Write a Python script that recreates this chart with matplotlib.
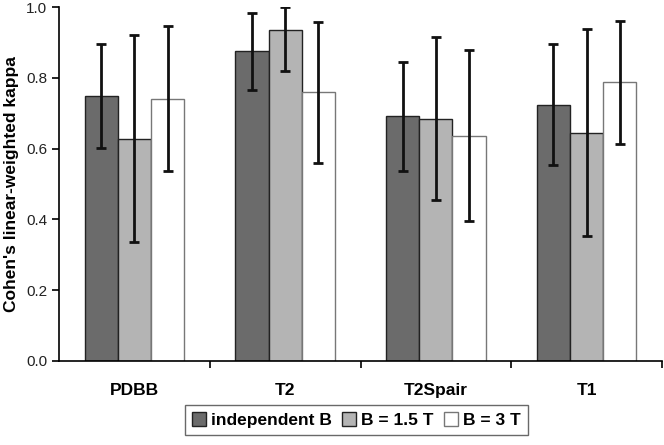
import numpy as np
import matplotlib.pyplot as plt

plt.rcParams['font.family'] = ['Liberation Sans', 'DejaVu Sans']

categories = ['PDBB', 'T2', 'T2Spair', 'T1']
series = ['independent B', 'B = 1.5 T', 'B = 3 T']

# kappa values and confidence bounds per series
vals = [[0.749, 0.875, 0.691, 0.724],
        [0.628, 0.935, 0.684, 0.645],
        [0.740, 0.759, 0.636, 0.788]]
upper = [[0.896, 0.983, 0.845, 0.896],
         [0.921, 1.000, 0.915, 0.938],
         [0.946, 0.957, 0.879, 0.962]]
lower = [[0.602, 0.766, 0.537, 0.555],
         [0.335, 0.819, 0.454, 0.353],
         [0.537, 0.560, 0.395, 0.613]]

colors = ['#6b6b6b', '#b4b4b4', '#ffffff']
edges = ['#222222', '#222222', '#777777']

fig = plt.figure(figsize=(6.64, 4.45), dpi=100)
ax = fig.add_axes([0.089, 0.189, 0.908, 0.795])

x = np.arange(len(categories))
w = 0.22
for i in range(3):
    v = np.array(vals[i])
    err = [v - np.array(lower[i]), np.array(upper[i]) - v]
    ax.bar(x + (i - 1) * w, v, w, color=colors[i], edgecolor=edges[i],
           linewidth=1, label=series[i], zorder=2)
    ax.errorbar(x + (i - 1) * w, v, yerr=err, fmt='none', ecolor='#111111',
                elinewidth=2, capsize=3.5, capthick=2, zorder=3)

ax.set_xlim(-0.5, 3.5)
ax.set_ylim(0, 1.0)
ax.set_yticks(np.arange(0, 1.01, 0.2))
ax.set_yticklabels(['%.1f' % t for t in np.arange(0, 1.01, 0.2)], fontsize=11, color='#222222')
ax.set_xticks(x)
ax.set_xticklabels(categories, fontsize=12.5, fontweight='bold')
ax.tick_params(axis='x', length=0, pad=16)
ax.set_xticks([0.5, 1.5, 2.5, 3.5], minor=True)
ax.tick_params(axis='x', which='minor', length=5, width=1.2, direction='out')
ax.tick_params(axis='y', length=5, width=1.2, direction='out')
ax.spines['top'].set_visible(False)
ax.spines['right'].set_visible(False)
ax.spines['left'].set_linewidth(1.2)
ax.spines['bottom'].set_linewidth(1.2)
ax.set_ylabel("Cohen's linear-weighted kappa", fontsize=12.5, fontweight='bold', labelpad=5)

leg = fig.legend(loc='lower center', bbox_to_anchor=(0.537, 0.003), ncol=3,
                 frameon=True, fancybox=False, edgecolor='#444444',
                 prop={'size': 12.5, 'weight': 'bold'}, handlelength=0.8,
                 handleheight=0.8, handletextpad=0.3, columnspacing=0.6,
                 borderpad=0.4)

fig.savefig('out.png', dpi=100)
